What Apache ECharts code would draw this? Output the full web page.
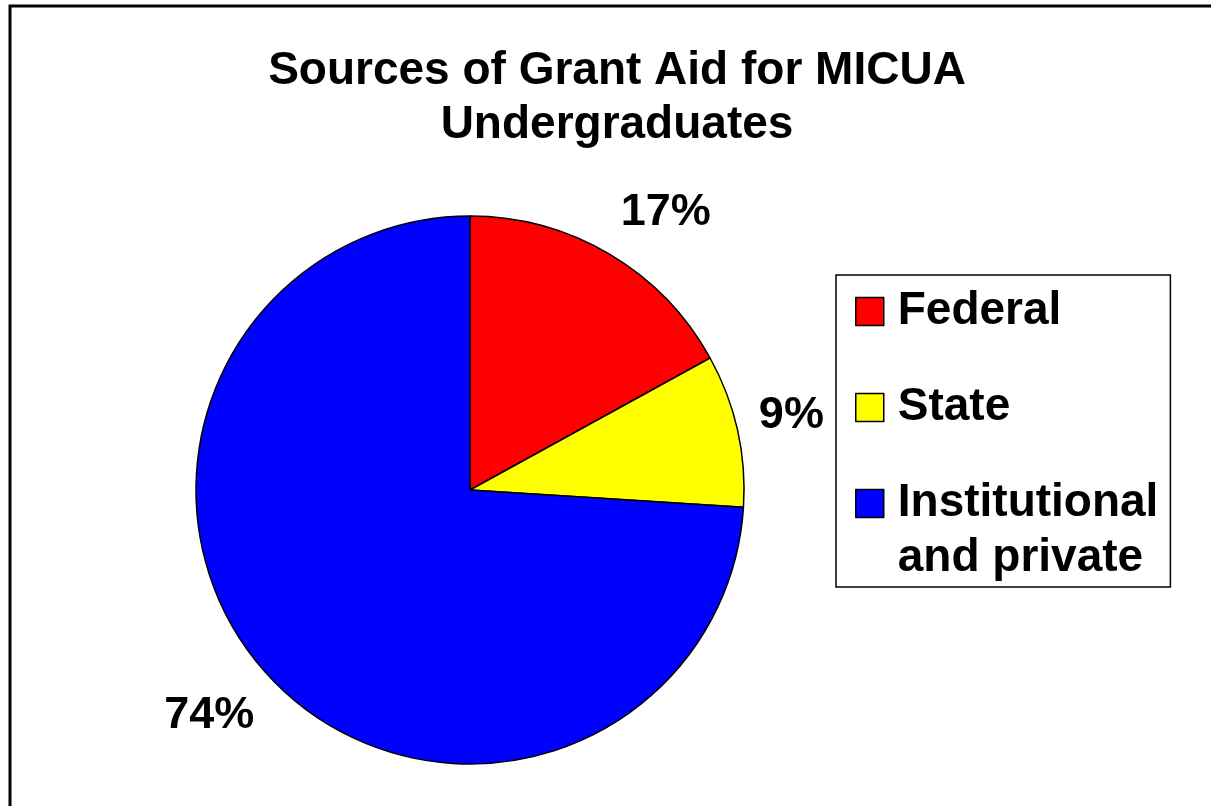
<!DOCTYPE html>
<html>
<head>
<meta charset="utf-8">
<title>Sources of Grant Aid for MICUA Undergraduates</title>
<script src="https://cdn.jsdelivr.net/npm/echarts@6/dist/echarts.min.js"></script>
<style>
  html, body { margin: 0; padding: 0; background: #fff; }
  #chart { width: 1211px; height: 806px; }
</style>
</head>
<body>
<div id="chart"></div>
<script>
// data
const categories = ['Federal', 'State', 'Institutional and private'];
const shares = [17, 9, 74];
const sliceColors = ['#FF0000', '#FFFF00', '#0000FF'];
// legend text, one row per category (2nd row only for the long one)
const legendLines = [['Federal'], ['State'], ['Institutional', 'and private']];

const titleText = 'Sources of Grant Aid for MICUA\nUndergraduates';
const fontFamily = '"Liberation Sans", Arial, sans-serif';

const pieCenter = [470, 490];
const pieRadius = 274;
const total = shares.reduce((a, b) => a + b, 0);

const chart = echarts.init(document.getElementById('chart'));

const clamp1 = v => Math.max(-1, Math.min(1, v));

// put each percent just outside the slice, on its mid angle,
// pushing the label box away from the pie by half its size
const placeLabel = params => {
  const i = params.dataIndex;
  let before = 0;
  for (let k = 0; k < i; k += 1) {
    before += shares[k];
  }
  const mid = (before + shares[i] / 2) / total;
  const ang = ((90 - mid * 360) * Math.PI) / 180;
  const r = pieRadius + 22;
  const px = pieCenter[0] + r * Math.cos(ang);
  const py = pieCenter[1] - r * Math.sin(ang);
  const w = params.labelRect.width;
  const h = params.labelRect.height;
  return {
    x: px + (clamp1(2 * Math.cos(ang)) * w) / 2,
    y: py - (clamp1(2 * Math.sin(ang)) * h) / 2,
    align: 'center',
    verticalAlign: 'middle',
  };
};

// legend text is centred on its icon, so pad every entry to 3 rows with
// the name in the middle row; that keeps the icon on the first text row
const legendText = name => {
  const lines = legendLines[categories.indexOf(name)].slice();
  while (lines.length < 2) lines.push('');
  return '\n' + lines.join('\n');
};

const option = {
  backgroundColor: '#ffffff',
  animation: false,
  title: {
    text: titleText,
    left: 617,
    top: 44,
    padding: 0,
    textAlign: 'center',
    textStyle: {
      fontFamily,
      fontSize: 46,
      fontWeight: 'bold',
      color: '#000',
      lineHeight: 54,
    },
  },
  legend: {
    orient: 'vertical',
    left: 836,
    top: 275,
    data: categories,
    icon: 'rect',
    itemWidth: 28,
    itemHeight: 28,
    itemGap: -69,
    padding: [-46, 12, 1, 19],
    borderColor: '#000',
    borderWidth: 1.5,
    backgroundColor: '#fff',
    formatter: legendText,
    itemStyle: {
      borderColor: '#000',
      borderWidth: 1.5,
    },
    textStyle: {
      fontFamily,
      fontSize: 46,
      fontWeight: 'bold',
      color: '#000',
      lineHeight: 55,
      padding: [0, 0, 0, 9],
    },
  },
  graphic: [
    {
      type: 'rect',
      silent: true,
      shape: { x: 10, y: 6, width: 1400, height: 1000 },
      style: { fill: 'none', stroke: '#000', lineWidth: 3 },
    },
  ],
  series: [
    {
      type: 'pie',
      center: pieCenter,
      radius: pieRadius,
      startAngle: 90,
      clockwise: true,
      avoidLabelOverlap: false,
      data: categories.map((name, i) => ({
        name,
        value: shares[i],
        itemStyle: { color: sliceColors[i] },
      })),
      itemStyle: {
        borderColor: '#000',
        borderWidth: 1.5,
      },
      emphasis: { disabled: true },
      label: {
        show: true,
        position: 'outside',
        formatter: p => `${p.value}%`,
        fontFamily,
        fontSize: 45,
        fontWeight: 'bold',
        color: '#000',
        lineHeight: 36,
      },
      labelLine: { show: false },
      labelLayout: placeLabel,
    },
  ],
};

chart.setOption(option);
</script>
</body>
</html>
